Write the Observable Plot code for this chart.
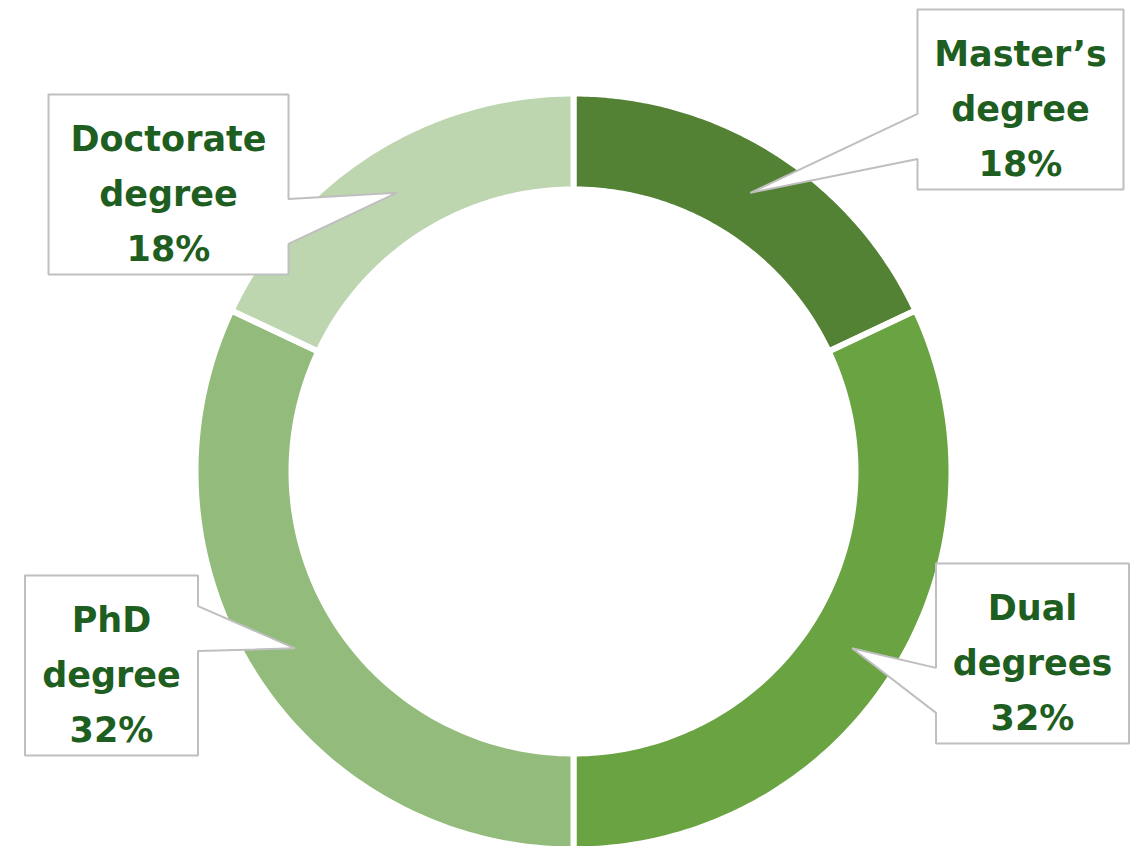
<!DOCTYPE html>
<html>
<head>
<meta charset="utf-8">
<script src="https://cdn.jsdelivr.net/npm/d3@7"></script>
<script src="https://cdn.jsdelivr.net/npm/@observablehq/plot@0.6"></script>
<style>
  html, body { margin: 0; padding: 0; background: #ffffff; }
  #chart svg { display: block; }
</style>
</head>
<body>
<div id="chart"></div>
<script>
// ---- Data ----
const categories = ["Master’s degree", "Dual degrees", "PhD degree", "Doctorate degree"];
const labelLines = ["Master’s\ndegree", "Dual\ndegrees", "PhD\ndegree", "Doctorate\ndegree"];
const shares = [18, 32, 32, 18];
const colors = ["#548235", "#6aa342", "#93bb7b", "#bdd6b0"];

// ---- Layout (pixels) ----
const W = 1132, H = 846;
const ring = {cx: 573, cy: 471, rOuter: 378, rInner: 282, rTip: 330};
// callout boxes in data order (Master's, Dual, PhD, Doctorate)
const boxCx = [1020, 1032, 111, 168];
const boxCy = [99, 653, 665, 184];
const boxW  = [206, 193, 173, 240];
const boxH = 180;
const pointerLow = [true, true, false, true]; // pointer base on lower part of the box edge

// ---- Derived geometry from data ----
const pie = d3.pie().sort(null).value(d => d)(shares);
const toXY = (a, r) => [ring.cx + r * Math.sin(a), ring.cy - r * Math.cos(a)];

const ringPts = [];
pie.forEach((p, i) => {
  const n = 120;
  const pts = [];
  for (let k = 0; k <= n; k++) pts.push(toXY(p.startAngle + (p.endAngle - p.startAngle) * k / n, ring.rOuter));
  for (let k = n; k >= 0; k--) pts.push(toXY(p.startAngle + (p.endAngle - p.startAngle) * k / n, ring.rInner));
  pts.push(pts[0]);
  pts.forEach(([x, y]) => ringPts.push({key: categories[i], x, y}));
});

const calloutPts = [];
const labels = [];
pie.forEach((p, i) => {
  const mid = (p.startAngle + p.endAngle) / 2;
  const [tx, ty] = toXY(mid, ring.rTip);
  const cx = boxCx[i], cy = boxCy[i], w = boxW[i];
  const x0 = cx - w / 2, x1 = cx + w / 2, y0 = cy - boxH / 2, y1 = cy + boxH / 2;
  const f = pointerLow[i] ? [0.58, 0.83] : [0.17, 0.42];
  const ya = y0 + f[0] * boxH, yb = y0 + f[1] * boxH;
  let pts;
  if (tx < x0) {
    pts = [[x0, y0], [x1, y0], [x1, y1], [x0, y1], [x0, yb], [tx, ty], [x0, ya], [x0, y0]];
  } else {
    pts = [[x0, y0], [x1, y0], [x1, ya], [tx, ty], [x1, yb], [x1, y1], [x0, y1], [x0, y0]];
  }
  pts.forEach(([x, y]) => calloutPts.push({key: categories[i], x, y}));
  labels.push({x: cx, y: cy + 4, text: labelLines[i] + "\n" + shares[i] + "%"});
});

const chart = Plot.plot({
  width: W,
  height: H,
  margin: 0,
  x: {domain: [0, W], range: [0, W], axis: null},
  y: {domain: [0, H], range: [0, H], axis: null},
  color: {domain: categories, range: colors},
  marks: [
    Plot.line(ringPts, {x: "x", y: "y", z: "key", fill: "key", stroke: "white", strokeWidth: 6, curve: "linear"}),
    Plot.line(calloutPts, {x: "x", y: "y", z: "key", fill: "white", stroke: "#bfbfbf", strokeWidth: 2, curve: "linear", strokeLinejoin: "miter"}),
    Plot.text(labels, {x: "x", y: "y", text: "text", fill: "#1e5e20", fontSize: 35, fontWeight: "bold", fontFamily: "DejaVu Sans", lineHeight: 1.57})
  ]
});
document.getElementById("chart").appendChild(chart);
</script>
</body>
</html>
